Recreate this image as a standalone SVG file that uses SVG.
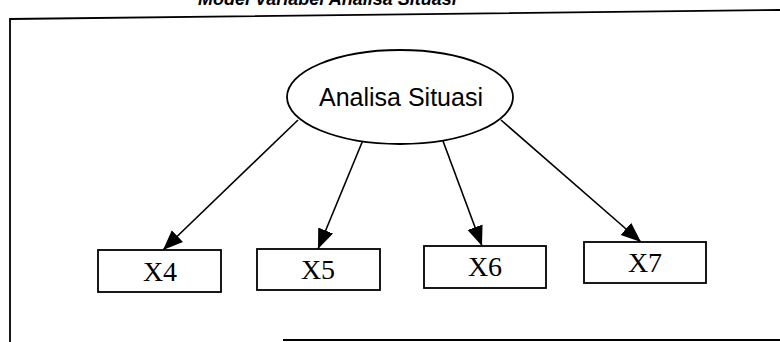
<svg xmlns="http://www.w3.org/2000/svg" width="780" height="342" viewBox="0 0 780 342">
  <style>
    .frame { fill: none; stroke: #000; stroke-width: 1.8; }
    .box { fill: #fff; stroke: #000; stroke-width: 1.8; }
    .oval { fill: #fff; stroke: #000; stroke-width: 1.8; }
    .edge { fill: none; stroke: #000; stroke-width: 1.6; }
    .lbl { font-family: "Liberation Serif", "Times New Roman", serif; font-size: 28px; fill: #000; text-anchor: middle; }
    .oval-lbl { font-family: "Liberation Sans", Arial, sans-serif; font-size: 25px; fill: #000; text-anchor: middle; }
    .title { font-family: "Liberation Sans", Arial, sans-serif; font-size: 18px; font-weight: bold; font-style: italic; fill: #000; }
  </style>
  <defs>
    <marker id="head" viewBox="0 0 20 20" refX="20" refY="10" markerWidth="20" markerHeight="20" markerUnits="userSpaceOnUse" orient="auto">
      <path d="M0,2 L20,10 L0,18 z" fill="#000"/>
    </marker>
  </defs>

  <!-- heading, cut off by the top edge -->
  <text class="title" x="198" y="5">Model Variabel Analisa Situasi</text>

  <!-- outer frame -->
  <g id="frame">
    <path class="frame" d="M10,342 L10,19 L780,10"/>
    <path class="frame" d="M283,340 L780,340"/>
  </g>

  <!-- connectors -->
  <g id="connectors">
    <line class="edge" x1="298" y1="120" x2="163" y2="250" marker-end="url(#head)"/>
    <line class="edge" x1="363" y1="140" x2="318" y2="249" marker-end="url(#head)"/>
    <line class="edge" x1="443" y1="141" x2="482" y2="246" marker-end="url(#head)"/>
    <line class="edge" x1="501" y1="120" x2="641" y2="242" marker-end="url(#head)"/>
  </g>

  <g id="analisa-situasi">
    <ellipse class="oval" cx="400" cy="97" rx="113" ry="47"/>
    <text class="oval-lbl" x="401" y="106">Analisa Situasi</text>
  </g>

  <g id="x4">
    <rect class="box" x="98" y="250" width="123" height="42"/>
    <text class="lbl" x="160" y="281">X4</text>
  </g>
  <g id="x5">
    <rect class="box" x="257" y="249" width="123" height="41"/>
    <text class="lbl" x="318" y="279">X5</text>
  </g>
  <g id="x6">
    <rect class="box" x="424" y="246" width="122" height="42"/>
    <text class="lbl" x="485" y="276">X6</text>
  </g>
  <g id="x7">
    <rect class="box" x="584" y="242" width="122" height="41"/>
    <text class="lbl" x="645" y="272">X7</text>
  </g>
</svg>
